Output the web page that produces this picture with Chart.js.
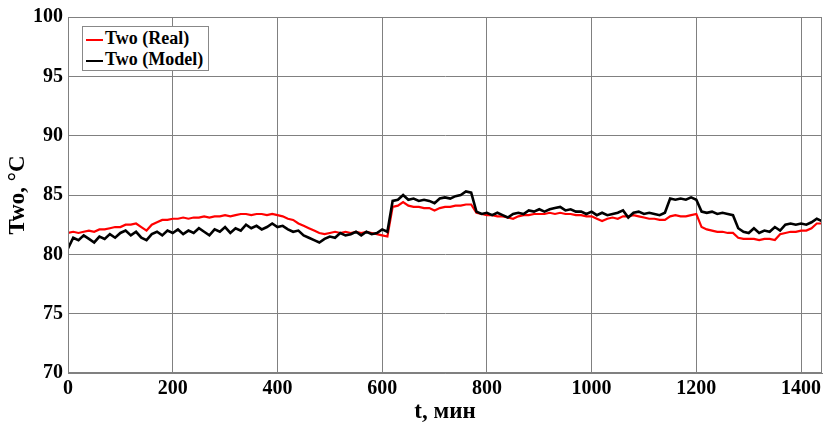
<!DOCTYPE html>
<html>
<head>
<meta charset="utf-8">
<script src="https://cdn.jsdelivr.net/npm/chart.js@4"></script>
<style>
  html, body { margin: 0; padding: 0; background: #fff; }
  #wrap { position: relative; width: 827px; height: 430px; }
  #legend {
    position: absolute; left: 82px; top: 26px; width: 125px; height: 43px;
    border: 1px solid #888; background: #fff;
    font-family: "Liberation Serif", "Tinos", "DejaVu Serif", serif;
    font-weight: bold; font-size: 18px; color: #000;
  }
  .row { position: absolute; left: 0; height: 22px; line-height: 22px; white-space: nowrap; }
  .row span.ln { display: inline-block; width: 17px; height: 2px; vertical-align: middle; margin: 0 2px 0 3px; }
</style>
</head>
<body>
<div id="wrap">
  <canvas id="chart" width="827" height="430"></canvas>
  <div id="legend">
    <div class="row" style="top:0px"><span class="ln" style="background:#ff0000"></span>Two (Real)</div>
    <div class="row" style="top:21px"><span class="ln" style="background:#000"></span>Two (Model)</div>
  </div>
</div>
<script>
// time grid, minutes (one reading every 10 min)
const STEP = 10;

// Two (Real), °C
const realTwo = [
  81.8, 81.9, 81.8, 81.9, 82.0, 81.9, 82.1, 82.1, 82.2, 82.3,
  82.3, 82.5, 82.5, 82.6, 82.3, 82.0, 82.5, 82.7, 82.9, 82.9,
  83.0, 83.0, 83.1, 83.0, 83.1, 83.1, 83.2, 83.1, 83.2, 83.2,
  83.3, 83.2, 83.3, 83.4, 83.4, 83.3, 83.4, 83.4, 83.3, 83.4,
  83.3, 83.2, 83.0, 82.9, 82.6, 82.4, 82.2, 82.0, 81.8, 81.7,
  81.8, 81.9, 81.8, 81.9, 81.8, 81.9, 81.8, 81.9, 81.8, 81.7,
  81.6, 81.5, 84.0, 84.1, 84.4, 84.1, 84.0, 84.0, 83.9, 83.9,
  83.7, 83.9, 84.0, 84.0, 84.1, 84.1, 84.2, 84.2, 83.5, 83.4,
  83.3, 83.3, 83.2, 83.2, 83.1, 83.0, 83.2, 83.3, 83.3, 83.4,
  83.4, 83.4, 83.5, 83.4, 83.5, 83.4, 83.4, 83.3, 83.3, 83.2,
  83.2, 83.0, 82.8, 83.0, 83.1, 83.0, 83.2, 83.2, 83.3, 83.2,
  83.1, 83.0, 83.0, 82.9, 82.9, 83.2, 83.3, 83.2, 83.2, 83.3,
  83.4, 82.3, 82.1, 82.0, 81.9, 81.9, 81.8, 81.8, 81.4, 81.3,
  81.3, 81.3, 81.2, 81.3, 81.3, 81.2, 81.7, 81.8, 81.9, 81.9,
  82.0, 82.0, 82.2, 82.6, 82.6
];

// Two (Model), °C
const modelTwo = [
  80.5, 81.4, 81.2, 81.6, 81.3, 81.0, 81.5, 81.3, 81.7, 81.4,
  81.8, 82.0, 81.6, 81.9, 81.4, 81.2, 81.7, 81.9, 81.6, 82.0,
  81.8, 82.1, 81.7, 82.0, 81.8, 82.2, 81.9, 81.6, 82.1, 81.9,
  82.3, 81.8, 82.2, 82.0, 82.5, 82.2, 82.4, 82.1, 82.3, 82.6,
  82.3, 82.4, 82.1, 81.9, 82.0, 81.6, 81.4, 81.2, 81.0, 81.3,
  81.5, 81.4, 81.8, 81.6, 81.7, 81.9, 81.6, 81.9, 81.7, 81.8,
  82.1, 81.9, 84.5, 84.6, 85.0, 84.6, 84.7, 84.5, 84.6, 84.5,
  84.3, 84.7, 84.8, 84.7, 84.9, 85.0, 85.3, 85.2, 83.6, 83.4,
  83.5, 83.3, 83.5, 83.3, 83.1, 83.4, 83.5, 83.4, 83.7, 83.6,
  83.8, 83.6, 83.8, 83.9, 84.0, 83.7, 83.8, 83.6, 83.6, 83.4,
  83.6, 83.3, 83.5, 83.3, 83.4, 83.5, 83.7, 83.1, 83.5, 83.6,
  83.4, 83.5, 83.4, 83.3, 83.5, 84.7, 84.6, 84.7, 84.6, 84.8,
  84.6, 83.6, 83.5, 83.6, 83.4, 83.5, 83.4, 83.3, 82.2, 81.9,
  81.8, 82.2, 81.8, 82.0, 81.9, 82.3, 82.0, 82.5, 82.6, 82.5,
  82.6, 82.5, 82.7, 83.0, 82.8
];

const xTicks = [0, 200, 400, 600, 800, 1000, 1200, 1400];
const yTicks = [70, 75, 80, 85, 90, 95, 100];

const toPoints = arr => arr.map((v, i) => ({ x: i * STEP, y: v }));

const serif = '"Liberation Serif", "Tinos", "DejaVu Serif", serif';
const tickFont = { family: serif, size: 20, weight: 'bold' };
const titleFont = { family: serif, size: 23, weight: 'bold' };

new Chart(document.getElementById('chart'), {
  type: 'line',
  data: {
    datasets: [
      { label: 'Two (Model)', data: toPoints(modelTwo), borderColor: '#000', borderWidth: 2.6 },
      { label: 'Two (Real)', data: toPoints(realTwo), borderColor: '#ff0000', borderWidth: 2.2 }
    ]
  },
  options: {
    responsive: false,
    animation: false,
    elements: { point: { radius: 0 }, line: { tension: 0 } },
    layout: { padding: { top: 17, right: 5, left: 0, bottom: 0 } },
    plugins: { legend: { display: false }, tooltip: { enabled: false } },
    scales: {
      x: {
        type: 'linear', min: 0, max: 1440,
        afterBuildTicks: s => { s.ticks = xTicks.map(v => ({ value: v })); },
        afterFit: s => { s.height = 57; },
        grid: { color: '#808080', lineWidth: 1, drawTicks: false },
        border: { color: '#808080' },
        ticks: { color: '#000', font: tickFont, padding: 4, maxRotation: 0, callback: v => String(v) },
        title: { display: true, text: 't, мин', color: '#000', font: titleFont, padding: { top: 0 } }
      },
      y: {
        min: 70, max: 100,
        afterBuildTicks: s => { s.ticks = yTicks.map(v => ({ value: v })); },
        afterFit: s => { s.width = 68; },
        grid: { color: '#808080', lineWidth: 1, drawTicks: false },
        border: { color: '#808080' },
        ticks: { color: '#000', font: tickFont, padding: 5, callback: v => String(v) },
        title: { display: true, text: 'Two, °C', color: '#000', font: titleFont, padding: { bottom: 0 } }
      }
    }
  },
  plugins: [{
    id: 'frame',
    afterDraw(chart) {
      const { ctx, chartArea: a } = chart;
      ctx.save();
      ctx.strokeStyle = '#808080';
      ctx.lineWidth = 1;
      ctx.strokeRect(a.left + 0.5, a.top + 0.5, a.right - a.left - 1, a.bottom - a.top - 1);
      ctx.restore();
    }
  }]
});
</script>
</body>
</html>
